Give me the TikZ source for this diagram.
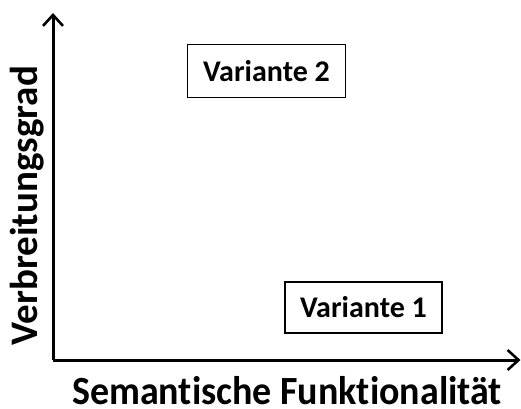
\documentclass[tikz,border=0pt]{standalone}
\usepackage{fontspec}
\setmainfont{Carlito}[Ligatures={NoCommon}]
\usetikzlibrary{arrows.meta}
\begin{document}
\begin{tikzpicture}[x=1pt,y=-1pt,
  axis/.style={line width=3pt,-{Straight Barb[length=11pt,width=20pt,line width=2.6pt]}},
  varbox/.style={draw,line width=1.3pt,minimum width=158pt,minimum height=53pt,
    font=\bfseries\fontsize{30}{33}\selectfont,inner sep=0pt},
  axlabel/.style={font=\bfseries\fontsize{40}{44}\selectfont,inner sep=0pt}]
  \useasboundingbox (0,0) rectangle (521,408);
  \coordinate (o) at (53,360);
  \coordinate (ytop) at (53,13);
  \coordinate (xend) at (520.5,360);
  \draw[axis] (o) -- (ytop);
  \draw[axis] (o) -- (xend);
  \node[varbox] (v2) at (266.5,71) {Variante 2};
  \node[varbox,minimum width=157pt,minimum height=51pt] (v1) at (363.5,307.5) {Variante 1};
  \node[axlabel,anchor=base,xscale=0.95] (xl) at (287,404) {Semantische Funktionalität};
  \node[axlabel,font=\bfseries\fontsize{39}{43}\selectfont,rotate=90,anchor=base] (yl) at (37.5,205.5) {Verbreitungsgrad};
\end{tikzpicture}
\end{document}
